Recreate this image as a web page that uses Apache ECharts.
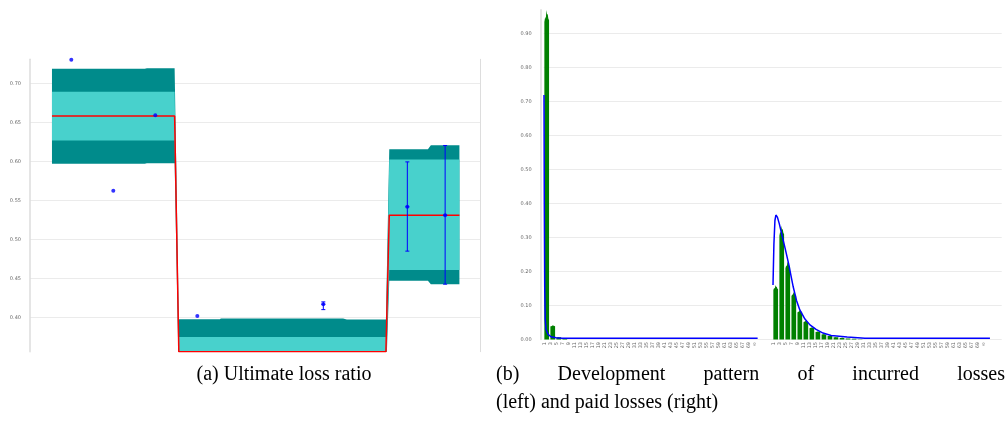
<!DOCTYPE html>
<html>
<head>
<meta charset="utf-8">
<script src="https://cdn.jsdelivr.net/npm/echarts@6/dist/echarts.min.js"></script>
<style>
  html, body { margin: 0; padding: 0; background: #ffffff; }
  #main { width: 1008px; height: 423px; }
</style>
</head>
<body>
<div id="main"></div>
<script>
// ---------- (a) Ultimate loss ratio ----------
// x: accident-period index (band edges fall between periods)
const lossX   = [-0.46, 1.75, 1.80, 2.46, 2.56, 3.54, 3.56, 6.47, 6.56, 7.49, 7.57, 8.49, 8.56, 9.24];
// predictive quantiles of the ultimate loss ratio
const lossQ95 = [0.7189, 0.7189, 0.7196, 0.7196, 0.3982, 0.3982, 0.3991, 0.3991, 0.3978, 0.3978, 0.6159, 0.6159, 0.6210, 0.6210];
const lossQ75 = [0.6894, 0.6894, 0.6894, 0.6894, 0.3752, 0.3752, 0.3752, 0.3752, 0.3752, 0.3752, 0.6027, 0.6027, 0.6027, 0.6027];
const lossMed = [0.6585, 0.6585, 0.6585, 0.6585, 0.3565, 0.3565, 0.3565, 0.3565, 0.3565, 0.3565, 0.5314, 0.5314, 0.5314, 0.5314];
const lossQ25 = [0.6269, 0.6269, 0.6269, 0.6269, 0.3380, 0.3380, 0.3380, 0.3380, 0.3380, 0.3380, 0.4610, 0.4610, 0.4610, 0.4610];
const lossQ05 = [0.5971, 0.5971, 0.5979, 0.5979, 0.3180, 0.3180, 0.3180, 0.3180, 0.3180, 0.3180, 0.4473, 0.4473, 0.4430, 0.4430];
// observed ratios, with interval where one exists
const obsX    = [0, 1, 2, 3, 6, 8, 8.9];
const obsY    = [0.7305, 0.5625, 0.6594, 0.4021, 0.4174, 0.5420, 0.5314];
const obsLow  = [null, null, null, null, 0.4104, 0.4853, 0.4430];
const obsHigh = [null, null, null, null, 0.4203, 0.5996, 0.6206];

// ---------- (b) Development pattern ----------
const incurredPeriods = ['1','3','5','7','9','11','13','15','17','19','21','23','25','27','29','31','33','35',
                         '37','39','41','43','45','47','49','51','53','55','57','59','61','63','65','67','69','\u221e'];
const paidPeriods     = ['1','3','5','7','9','11','13','15','17','19','21','23','25','27','29','31','33','35',
                         '37','39','41','43','45','47','49','51','53','55','57','59','61','63','65','67','69','\u221e'];
const incurredBars = [0.969, 0.042, 0.007, 0.002, 0, 0, 0, 0, 0, 0, 0, 0, 0, 0, 0, 0, 0, 0,
                      0, 0, 0, 0, 0, 0, 0, 0, 0, 0, 0, 0, 0, 0, 0, 0, 0, 0];
const paidBars     = [0.160, 0.335, 0.230, 0.140, 0.087, 0.056, 0.036, 0.024, 0.016, 0.011, 0.007, 0.005,
                      0.003, 0.002, 0.001, 0, 0, 0, 0, 0, 0, 0, 0, 0, 0, 0, 0, 0, 0, 0, 0, 0, 0, 0, 0, 0];
// fitted development curves (x in periods from the first period of each block)
const incurredFitX = [-0.45, -0.40, -0.33, -0.25, -0.12, 0.22, 0.71, 1.54, 2.54, 35.0];
const incurredFitY = [0.719, 0.400, 0.150, 0.060, 0.030, 0.015, 0.008, 0.005, 0.004, 0.004];
const paidFitX = [-0.45, -0.30, -0.13, 0.03, 0.28, 0.60, 1.13, 1.60, 2.13, 2.90, 3.45, 4.00, 4.85, 5.68,
                  6.70, 7.85, 9.20, 11.85, 14.80, 35.55];
const paidFitY = [0.160, 0.280, 0.350, 0.366, 0.360, 0.340, 0.300, 0.265, 0.224, 0.155, 0.115, 0.087, 0.060, 0.043,
                  0.030, 0.019, 0.012, 0.007, 0.004, 0.004];

const captionA  = '(a) Ultimate loss ratio';
const captionB1 = '(b) Development pattern of incurred losses';
const captionB2 = '(left) and paid losses (right)';

// ---------- build ----------
const zip = (xs, ys) => xs.map((x, i) => [x, ys[i]]);

const gapCats = 2;
const paidStart = incurredPeriods.length + gapCats;
const periodCats = incurredPeriods.concat(['', ''], paidPeriods, ['', '']);
const barData = incurredBars.map((v, i) => [i, v]).concat(paidBars.map((v, i) => [paidStart + i, v]));
const incurredFit = incurredFitX.map((x, i) => [x, incurredFitY[i]]);
const paidFit = paidFitX.map((x, i) => [paidStart + x, paidFitY[i]]);

const errData = [];
obsX.forEach((x, i) => { if (obsLow[i] != null) errData.push([x, obsLow[i], obsHigh[i], obsY[i]]); });

const TEAL_DARK = '#008b8b', TEAL_LIGHT = '#48d1cc';
const GRID_LINE = '#ebebeb', AXIS_LINE = '#dddddd', LABEL = '#666666';

// quantile band between two quantile arrays, as one polygon through the axis scales
function bandPolygon(api, lower, upper) {
  const pts = [];
  for (let i = 0; i < lossX.length; i++) pts.push(api.coord([lossX[i], upper[i]]));
  for (let i = lossX.length - 1; i >= 0; i--) pts.push(api.coord([lossX[i], lower[i]]));
  return pts;
}
function renderBands(params, api) {
  return {
    type: 'group',
    children: [
      { type: 'polygon', shape: { points: bandPolygon(api, lossQ05, lossQ95) }, style: { fill: TEAL_DARK } },
      { type: 'polygon', shape: { points: bandPolygon(api, lossQ25, lossQ75) }, style: { fill: TEAL_LIGHT } }
    ]
  };
}

function renderErrorBar(params, api) {
  const x = api.value(0);
  const lo = api.coord([x, api.value(1)]);
  const hi = api.coord([x, api.value(2)]);
  const mid = api.coord([x, api.value(3)]);
  const c = 2;
  const st = { stroke: '#0000ff', lineWidth: 1 };
  return {
    type: 'group',
    children: [
      { type: 'line', shape: { x1: hi[0], y1: hi[1], x2: lo[0], y2: lo[1] }, style: st },
      { type: 'line', shape: { x1: hi[0] - c, y1: hi[1], x2: hi[0] + c, y2: hi[1] }, style: st },
      { type: 'line', shape: { x1: lo[0] - c, y1: lo[1], x2: lo[0] + c, y2: lo[1] }, style: st },
      { type: 'line', shape: { x1: mid[0] - c, y1: mid[1], x2: mid[0] + c, y2: mid[1] }, style: st }
    ]
  };
}

function renderSpikeBar(params, api) {
  const v = api.value(1);
  if (!(v > 0)) return null;
  const cat = api.value(0);
  const top = api.coord([cat, v]);
  const base = api.coord([cat, 0]);
  const w = api.size([1, 0])[0] * 0.78;
  const h = base[1] - top[1];
  const cap = Math.min(12, h * 0.09);
  const xl = top[0] - w / 2, xr = top[0] + w / 2, t = top[1];
  const pts = [
    [xl, base[1]], [xl, t + cap],
    [xl + w * 0.18, t + cap * 0.55], [xl + w * 0.30, t + cap * 0.75],
    [xl + w * 0.45, t], [xl + w * 0.58, t + cap * 0.40],
    [xl + w * 0.70, t + cap * 0.30], [xl + w * 0.84, t + cap * 0.70],
    [xr, t + cap * 0.85], [xr, base[1]]
  ];
  return { type: 'polygon', shape: { points: pts }, style: { fill: '#008000' } };
}

// caption lines; the first line of (b) is justified across its column
const measureCtx = document.createElement('canvas').getContext('2d');
const CAP_FONT = '20px "Liberation Serif"';
function captionLine(text, x0, x1, y, justify) {
  measureCtx.font = CAP_FONT;
  const words = text.split(' ');
  if (!justify) {
    return [{ type: 'text', x: x0, y: y, style: { text: text, font: CAP_FONT, fill: '#000', align: 'left', verticalAlign: 'middle' } }];
  }
  const widths = words.map(w => measureCtx.measureText(w).width);
  const total = widths.reduce((a, b) => a + b, 0);
  const gap = (x1 - x0 - total) / (words.length - 1);
  const out = [];
  let x = x0;
  words.forEach((w, i) => {
    out.push({ type: 'text', x: x, y: y, style: { text: w, font: CAP_FONT, fill: '#000', align: 'left', verticalAlign: 'middle' } });
    x += widths[i] + gap;
  });
  return out;
}

const chart = echarts.init(document.getElementById('main'), null, { renderer: 'canvas' });

const option = {
  animation: false,
  grid: [
    { left: 30, top: 59.3, width: 450, height: 292.4 },
    { left: 543.7, top: 9.7, width: 458, height: 329.8 }
  ],
  xAxis: [
    { gridIndex: 0, type: 'value', min: -0.983, max: 9.73, show: false },
    {
      gridIndex: 1, type: 'category', data: periodCats,
      axisLine: { show: false }, axisTick: { show: false }, splitLine: { show: false },
      axisLabel: { interval: 0, rotate: 90, fontSize: 5, color: LABEL, margin: 2.5, verticalAlign: 'bottom', fontFamily: 'DejaVu Sans' }
    },
    { gridIndex: 1, type: 'value', min: -0.5, max: periodCats.length - 0.5, show: false }
  ],
  yAxis: [
    {
      gridIndex: 0, type: 'value', min: 0.3565, max: 0.731, splitNumber: 8,
      axisLine: { show: true, onZero: false, lineStyle: { color: AXIS_LINE, width: 1.5 } },
      axisTick: { show: false },
      axisLabel: { fontSize: 5, color: LABEL, margin: 9, showMinLabel: false, showMaxLabel: false,
                   fontFamily: 'DejaVu Sans', formatter: v => v.toFixed(2) },
      splitLine: { lineStyle: { color: GRID_LINE }, showMinLine: false, showMaxLine: false }
    },
    {
      gridIndex: 0, type: 'value', position: 'right', min: 0.3565, max: 0.731,
      axisLine: { show: true, onZero: false, lineStyle: { color: AXIS_LINE, width: 1 } },
      axisTick: { show: false }, axisLabel: { show: false }, splitLine: { show: false }
    },
    {
      gridIndex: 1, type: 'value', min: 0, max: 0.97, interval: 0.1, offset: 3,
      axisLine: { show: true, onZero: false, lineStyle: { color: AXIS_LINE, width: 1.5 } },
      axisTick: { show: false },
      axisLabel: { fontSize: 5, color: LABEL, margin: 9, showMaxLabel: false,
                   fontFamily: 'DejaVu Sans', formatter: v => v.toFixed(2) },
      splitLine: { lineStyle: { color: GRID_LINE }, showMaxLine: false }
    }
  ],
  series: [
    { type: 'custom', xAxisIndex: 0, yAxisIndex: 0, data: [[lossX[0], lossQ95[0]]], renderItem: renderBands,
      clip: true, silent: true, z: 1 },
    { type: 'line', xAxisIndex: 0, yAxisIndex: 0, data: zip(lossX, lossMed),
      symbol: 'none', lineStyle: { color: '#ff0000', width: 1.5 }, z: 3 },
    { type: 'custom', xAxisIndex: 0, yAxisIndex: 0, data: errData, renderItem: renderErrorBar, z: 4 },
    { type: 'scatter', xAxisIndex: 0, yAxisIndex: 0, data: zip(obsX, obsY),
      symbol: 'circle', symbolSize: 4, itemStyle: { color: '#0000ff' }, z: 5 },

    { type: 'custom', xAxisIndex: 1, yAxisIndex: 2, data: barData, renderItem: renderSpikeBar, z: 2 },
    { type: 'line', xAxisIndex: 2, yAxisIndex: 2, data: incurredFit,
      symbol: 'none', lineStyle: { color: '#0000ff', width: 1.5 }, z: 3 },
    { type: 'line', xAxisIndex: 2, yAxisIndex: 2, data: paidFit,
      symbol: 'none', lineStyle: { color: '#0000ff', width: 1.5 }, z: 3 }
  ],
  graphic: [].concat(
    [{ type: 'text', x: 284, y: 375, style: { text: captionA, font: CAP_FONT, fill: '#000', align: 'center', verticalAlign: 'middle' } }],
    captionLine(captionB1, 496, 1005, 375, true),
    captionLine(captionB2, 496, 0, 403, false)
  )
};

chart.setOption(option);
</script>
</body>
</html>
